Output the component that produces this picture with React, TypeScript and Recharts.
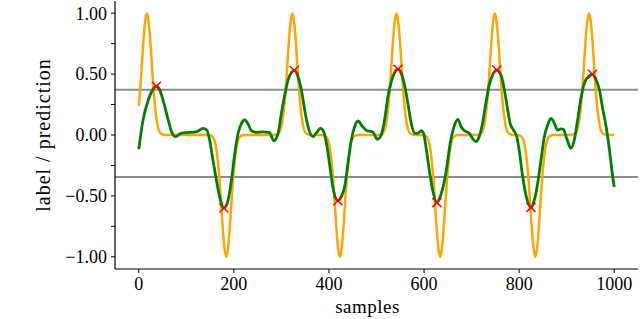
import React from "react";
import {
  ComposedChart,
  Line,
  Scatter,
  XAxis,
  YAxis,
  ReferenceLine,
} from "recharts";

// label (orange): sharp pulses, alternating sign
const labelX = [
  0, 1, 5, 9, 13, 17, 21, 25, 29, 33, 37, 42, 47, 55,
  146, 154, 159, 164, 168, 172, 176, 180, 184, 188, 192, 196, 200, 204, 209, 214, 222,
  285, 293, 298, 303, 307, 311, 315, 319, 323, 327, 331, 335, 339, 343, 348, 353, 361,
  385, 393, 398, 403, 407, 411, 415, 419, 423, 427, 431, 435, 439, 443, 448, 453, 461,
  504, 512, 517, 522, 526, 530, 534, 538, 542, 546, 550, 554, 558, 562, 567, 572, 580,
  596, 604, 609, 614, 618, 622, 626, 630, 634, 638, 642, 646, 650, 654, 659, 664, 672,
  711, 719, 724, 729, 733, 737, 741, 745, 749, 753, 757, 761, 765, 769, 774, 779, 787,
  796, 804, 809, 814, 818, 822, 826, 830, 834, 838, 842, 846, 850, 854, 859, 864, 872,
  909, 917, 922, 927, 931, 935, 939, 943, 947, 951, 955, 959, 963, 967, 972, 977, 985,
  1000,
];
const labelY = [
  0.24, 0.28, 0.49, 0.73, 0.92, 1, 0.92, 0.73, 0.49, 0.28, 0.14, 0.04, 0.01, 0,
  0, -0.01, -0.04, -0.14, -0.28, -0.49, -0.73, -0.92, -1, -0.92, -0.73, -0.49, -0.28, -0.14, -0.04, -0.01, 0,
  0, 0.01, 0.04, 0.14, 0.28, 0.49, 0.73, 0.92, 1, 0.92, 0.73, 0.49, 0.28, 0.14, 0.04, 0.01, 0,
  0, -0.01, -0.04, -0.14, -0.28, -0.49, -0.73, -0.92, -1, -0.92, -0.73, -0.49, -0.28, -0.14, -0.04, -0.01, 0,
  0, 0.01, 0.04, 0.14, 0.28, 0.49, 0.73, 0.92, 1, 0.92, 0.73, 0.49, 0.28, 0.14, 0.04, 0.01, 0,
  0, -0.01, -0.04, -0.14, -0.28, -0.49, -0.73, -0.92, -1, -0.92, -0.73, -0.49, -0.28, -0.14, -0.04, -0.01, 0,
  0, 0.01, 0.04, 0.14, 0.28, 0.49, 0.73, 0.92, 1, 0.92, 0.73, 0.49, 0.28, 0.14, 0.04, 0.01, 0,
  0, -0.01, -0.04, -0.14, -0.28, -0.49, -0.73, -0.92, -1, -0.92, -0.73, -0.49, -0.28, -0.14, -0.04, -0.01, 0,
  0, 0.01, 0.04, 0.14, 0.28, 0.49, 0.73, 0.92, 1, 0.92, 0.73, 0.49, 0.28, 0.14, 0.04, 0.01, 0,
  0,
];

// prediction (green)
const predX = [
  0, 9, 20, 27, 37, 44, 51, 62, 69, 78, 86, 97, 121, 135, 143, 149, 156, 162, 170, 179,
  188, 195, 202, 209, 216, 223, 230, 237, 247, 261, 275, 284, 293, 300, 307, 314, 327,
  335, 342, 349, 356, 366, 373, 382, 389, 396, 403, 408, 419, 426, 433, 440, 447, 454,
  461, 471, 480, 487, 492, 502, 510, 517, 524, 531, 538, 545, 552, 559, 566, 573, 580,
  587, 594, 599, 604, 611, 618, 627, 634, 641, 648, 655, 662, 671, 678, 685, 695, 702,
  709, 716, 723, 730, 737, 744, 753, 762, 769, 776, 781, 788, 795, 800, 807, 815, 825,
  832, 839, 846, 853, 860, 867, 874, 881, 888, 893, 900, 909, 916, 923, 930, 937, 947,
  954, 962, 969, 975, 983, 990, 995, 1000,
];
const predY = [
  -0.117, 0.123, 0.287, 0.355, 0.4, 0.37, 0.287, 0.123, 0.027, -0.014, 0.008, 0.019, 0.025, 0.055, 0.041, -0.041, -0.205, -0.342, -0.506, -0.6,
  -0.533, -0.369, -0.15, 0.014, 0.096, 0.123, 0.09, 0.035, 0.022, 0.025, 0.019, -0.047, 0.014, 0.178, 0.328, 0.451, 0.53,
  0.478, 0.369, 0.205, 0.068, -0.014, 0.014, 0.055, 0.027, -0.096, -0.287, -0.424, -0.54, -0.506, -0.424, -0.232, -0.041, 0.068,
  0.115, 0.068, 0.035, 0.03, 0.025, -0.035, 0.0, 0.123, 0.314, 0.437, 0.511, 0.54, 0.506, 0.41, 0.26, 0.096, 0.014,
  0.014, 0.035, 0.014, -0.096, -0.287, -0.451, -0.555, -0.506, -0.41, -0.26, -0.068, 0.055, 0.129, 0.068, 0.035, 0.014, -0.027,
  -0.055, -0.014, 0.096, 0.26, 0.41, 0.492, 0.533, 0.49, 0.37, 0.205, 0.096, 0.041, -0.014, -0.123, -0.328, -0.506, -0.594,
  -0.533, -0.396, -0.205, -0.014, 0.082, 0.137, 0.096, 0.041, 0.05, 0.047, -0.027, -0.109, -0.041, 0.123, 0.301, 0.424, 0.484,
  0.498, 0.451, 0.369, 0.232, 0.068, -0.123, -0.287, -0.427,
];

// red crosses at the predicted extrema
const peakX = [37, 179, 327, 419, 545, 627, 753, 825, 954];
const peakY = [0.4, -0.6, 0.53, -0.54, 0.54, -0.555, 0.533, -0.594, 0.498];

const upperThreshold = 0.371;
const lowerThreshold = -0.344;

const xTicks = [0, 200, 400, 600, 800, 1000];
const yTicks = [-1, -0.75, -0.5, -0.25, 0, 0.25, 0.5, 0.75, 1];

const labelData = labelX.map((x, i) => ({ x, y: labelY[i] }));
const predData = predX.map((x, i) => ({ x, y: predY[i] }));
const peakData = peakX.map((x, i) => ({ x, y: peakY[i] }));

const FONT = "Liberation Serif";

const formatY = (v: number) => {
  if (Math.abs(v * 2 - Math.round(v * 2)) > 1e-9) return "";
  const s = Math.abs(v).toFixed(2);
  return v < 0 ? "\u2212" + s : s;
};

const Cross = (props: any) => {
  const { cx, cy } = props;
  const r = 4.5;
  return (
    <path
      d={`M${cx - r},${cy - r}L${cx + r},${cy + r}M${cx - r},${cy + r}L${cx + r},${cy - r}`}
      stroke="#ff0000"
      strokeWidth={1.5}
      fill="none"
    />
  );
};

// y tick: every quarter gets a tick line, only halves get text
const YTick = (props: any) => {
  const { x, y, payload } = props;
  const text = formatY(payload.value);
  if (!text) return null;
  return (
    <text
      x={x}
      y={y}
      dy="0.355em"
      textAnchor="end"
      fontFamily={FONT}
      fontSize={18}
      fill="#000"
    >
      {text}
    </text>
  );
};

const XTick = (props: any) => {
  const { x, y, payload } = props;
  return (
    <text
      x={x}
      y={y}
      dy="0.71em"
      textAnchor="middle"
      fontFamily={FONT}
      fontSize={18}
      fill="#000"
    >
      {payload.value}
    </text>
  );
};

export default function App() {
  return (
    <div
      style={{
        position: "absolute",
        left: 0,
        top: 0,
        background: "#fff",
        fontFamily: FONT,
      }}
    >
      <ComposedChart
        width={640}
        height={319}
        margin={{ top: 1, right: 2, bottom: 0, left: 0 }}
        style={{ fontFamily: FONT }}
      >
        <XAxis
          xAxisId="main"
          dataKey="x"
          type="number"
          domain={[-50, 1050]}
          ticks={xTicks}
          height={50}
          tick={<XTick />}
          tickSize={4}
          tickMargin={4}
          axisLine={{ stroke: "#000", strokeWidth: 1.2 }}
          tickLine={{ stroke: "#000", strokeWidth: 1 }}
          allowDataOverflow
          interval={0}
          label={(p: any) => {
            const vb = p.viewBox;
            return (
              <text
                x={vb.x + vb.width / 2 - 9}
                y={vb.y + 44}
                textAnchor="middle"
                fontFamily={FONT}
                fontSize={19}
                letterSpacing={0.5}
                fill="#000"
              >
                samples
              </text>
            );
          }}
        />
        <XAxis
          xAxisId="top"
          orientation="top"
          dataKey="x"
          type="number"
          domain={[-50, 1050]}
          height={0}
          tick={false}
          tickLine={false}
          axisLine={{ stroke: "#000", strokeWidth: 1.2 }}
        />
        <YAxis
          yAxisId="main"
          type="number"
          domain={[-1.1, 1.1]}
          ticks={yTicks}
          width={115}
          tick={<YTick />}
          tickSize={4}
          tickMargin={4}
          axisLine={{ stroke: "#000", strokeWidth: 1.2 }}
          tickLine={{ stroke: "#000", strokeWidth: 1 }}
          allowDataOverflow
          interval={0}
          label={(p: any) => {
            const vb = p.viewBox;
            const cx = 50;
            const cy = vb.y + vb.height / 2;
            return (
              <text
                x={cx}
                y={cy}
                transform={`rotate(-90, ${cx}, ${cy})`}
                textAnchor="middle"
                fontFamily={FONT}
                fontSize={20}
                letterSpacing={1}
                fill="#000"
              >
                label / prediction
              </text>
            );
          }}
        />
        <YAxis
          yAxisId="right"
          orientation="right"
          type="number"
          domain={[-1.1, 1.1]}
          width={0}
          tick={false}
          tickLine={false}
          axisLine={{ stroke: "#000", strokeWidth: 1.2 }}
        />
        <ReferenceLine
          xAxisId="main"
          yAxisId="main"
          y={upperThreshold}
          stroke="#8c8c8c"
          strokeWidth={2}
        />
        <ReferenceLine
          xAxisId="main"
          yAxisId="main"
          y={lowerThreshold}
          stroke="#8c8c8c"
          strokeWidth={2}
        />
        <Line
          xAxisId="main"
          yAxisId="main"
          data={labelData}
          dataKey="y"
          type="monotone"
          stroke="#ffa500"
          strokeWidth={2.5}
          dot={false}
          activeDot={false}
          isAnimationActive={false}
        />
        <Line
          xAxisId="main"
          yAxisId="main"
          data={predData}
          dataKey="y"
          type="monotone"
          stroke="#008000"
          strokeWidth={2.8}
          dot={false}
          activeDot={false}
          isAnimationActive={false}
        />
        <Scatter
          xAxisId="main"
          yAxisId="main"
          data={peakData}
          dataKey="y"
          shape={Cross}
          isAnimationActive={false}
        />
      </ComposedChart>
    </div>
  );
}
